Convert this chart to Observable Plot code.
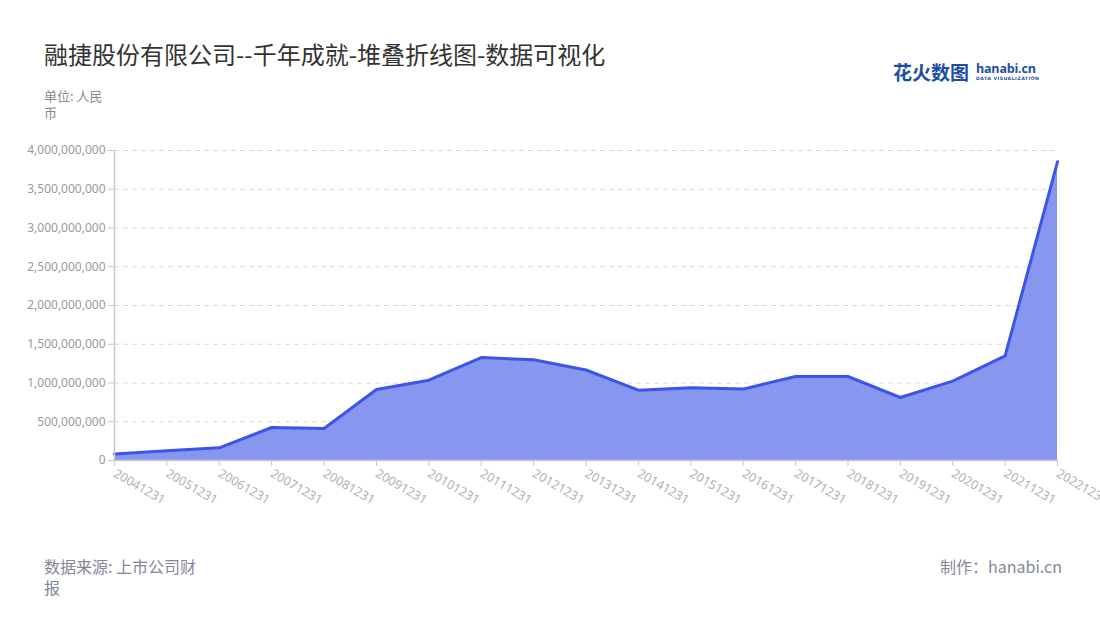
<!DOCTYPE html>
<html>
<head>
<meta charset="utf-8">
<script src="https://cdn.jsdelivr.net/npm/d3@7"></script>
<script src="https://cdn.jsdelivr.net/npm/@observablehq/plot@0.6"></script>
<style>
  html, body { margin: 0; padding: 0; background: #fff; }
  body { font-family: "Noto Sans CJK SC", "Noto Sans", sans-serif; }
  #wrap { position: relative; width: 1100px; height: 620px; overflow: hidden; background: #fff; }
  .title { position: absolute; left: 44px; top: 38px; font-size: 24px; color: #333; line-height: 32px; white-space: nowrap; }
  .unit { position: absolute; left: 44px; top: 87px; width: 64px; font-size: 13px; color: #8a8a8a; line-height: 17px; }
  .source { position: absolute; left: 44px; top: 556px; width: 160px; font-size: 16px; color: #86869a; line-height: 21px; }
  .maker { position: absolute; right: 38px; top: 556px; font-size: 16px; color: #86869a; line-height: 21px; white-space: nowrap; }
  .logo { position: absolute; left: 893px; top: 58px; height: 30px; color: #1d4ea6; white-space: nowrap; }
  .logo .cn { position: absolute; left: 0; top: 0; font-size: 19px; font-weight: 700; line-height: 28px; }
  .logo .en { position: absolute; left: 83px; top: 3px; font-size: 12.5px; font-weight: 700; line-height: 16px; font-family: "Open Sans", sans-serif; letter-spacing: -0.2px; }
  .logo .sub { position: absolute; left: 83px; top: 18px; font-size: 4.6px; font-weight: 700; letter-spacing: 0.5px; line-height: 6px; font-family: "DejaVu Sans", sans-serif; }
  #chart { position: absolute; left: 0; top: 130px; }
</style>
</head>
<body>
<div id="wrap">
  <div class="title">融捷股份有限公司--千年成就-堆叠折线图-数据可视化</div>
  <div class="unit">单位: 人民币</div>
  <div class="logo"><span class="cn">花火数图</span><span class="en">hanabi.cn</span><span class="sub">DATA VISUALIZATION</span></div>
  <div id="chart"></div>
  <div class="source">数据来源: 上市公司财报</div>
  <div class="maker">制作：hanabi.cn</div>
</div>
<script>
const dates = ["20041231","20051231","20061231","20071231","20081231","20091231","20101231","20111231","20121231","20131231","20141231","20151231","20161231","20171231","20181231","20191231","20201231","20211231","20221231"];
const values = [85e6, 125e6, 164e6, 426e6, 413e6, 916e6, 1036e6, 1329e6, 1299e6, 1168e6, 907e6, 938e6, 921e6, 1084e6, 1084e6, 813e6, 1024e6, 1350e6, 3854e6];
const yTicks = [0, 5e8, 1e9, 1.5e9, 2e9, 2.5e9, 3e9, 3.5e9, 4e9];

const data = dates.map((d, i) => ({date: d, value: values[i]}));

const chart = Plot.plot({
  width: 1100,
  height: 400,
  marginLeft: 114,
  marginRight: 43,
  marginTop: 20,
  marginBottom: 70,
  style: {fontFamily: "'Noto Sans', 'Noto Sans CJK SC', sans-serif", fontSize: "12px", background: "transparent"},
  x: {type: "point", domain: dates, padding: 0, round: false},
  y: {domain: [0, 4e9]},
  marks: [
    Plot.gridY(yTicks, {stroke: "#d9d9d9", strokeOpacity: 1, strokeDasharray: "5,4"}),
    Plot.areaY(data, {x: "date", y: "value", fill: "#8797f0", fillOpacity: 1}),
    Plot.lineY(data, {x: "date", y: "value", stroke: "#3b55e8", strokeWidth: 3, strokeLinejoin: "round"}),
    Plot.ruleY([0], {stroke: "#c8c8c8", strokeWidth: 1.5}),
    Plot.ruleX([dates[0]], {stroke: "#c8c8c8", strokeWidth: 1.5}),
    Plot.axisY({ticks: yTicks, tickFormat: d3.format(","), tickSize: 6, tickPadding: 3, stroke: "#c8c8c8", fill: "#9a9a9a", label: null}),
    Plot.axisX({tickRotate: 30, tickSize: 6, tickPadding: 6, fontSize: 12.5, stroke: "#c8c8c8", fill: "#b0b0b8", label: null})
  ]
});
document.getElementById("chart").appendChild(chart);
</script>
</body>
</html>
